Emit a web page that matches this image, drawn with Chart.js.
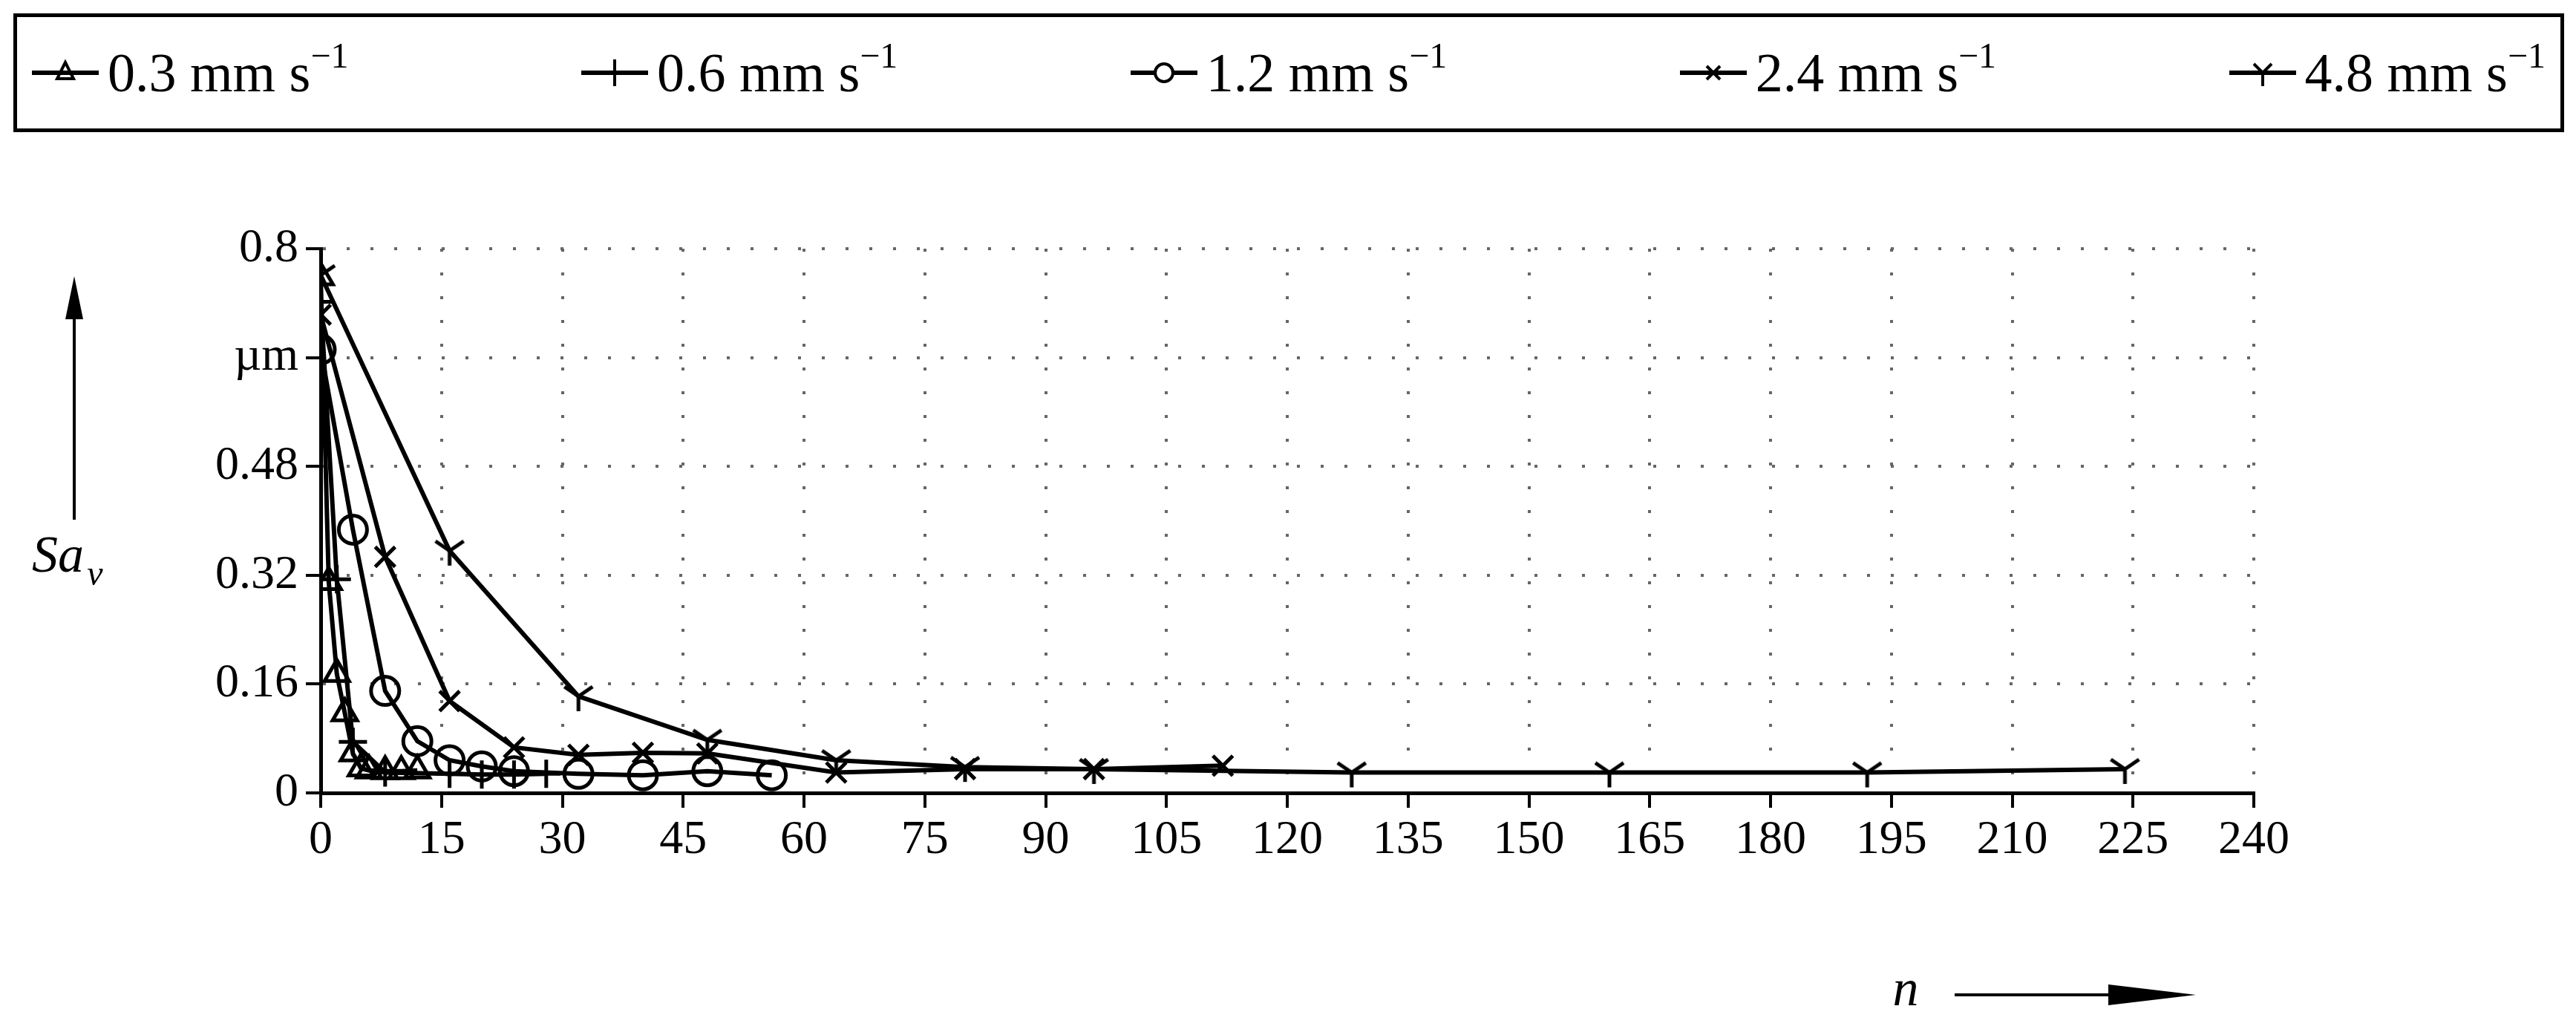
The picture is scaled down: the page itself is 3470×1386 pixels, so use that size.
<!DOCTYPE html>
<html><head><meta charset="utf-8">
<script src="https://cdn.jsdelivr.net/npm/chart.js@4"></script>
<style>
html,body{margin:0;padding:0;background:#fff;}
#wrap{position:relative;width:3470px;height:1386px;}
#legend{position:absolute;left:18px;top:18px;width:3436px;height:160px;border:5px solid #000;box-sizing:border-box;display:flex;align-items:center;justify-content:space-between;padding:0 20px;font-family:"Liberation Serif",serif;font-size:74px;}
#legend span{display:flex;align-items:center;}
#legend svg{margin-right:12px;}
sup{font-size:48px;position:relative;top:-24px;}
</style></head><body>
<div id="wrap">
<canvas id="c" width="3470" height="1386"></canvas>
<div id="legend"></div>
</div>
<script>
const labels = ["0.3 mm s", "0.6 mm s", "1.2 mm s", "2.4 mm s", "4.8 mm s"];
const n03 = [0,1,2,3,4,5,6,8,10,12];
const v03 = [0.758,0.31,0.175,0.117,0.058,0.036,0.033,0.032,0.032,0.033];
const n06 = [0,2,4,8,16,20,24,28];
const v06 = [0.722,0.314,0.075,0.03,0.028,0.027,0.027,0.028];
const n12 = [0,4,8,12,16,20,24,32,40,48,56];
const v12 = [0.652,0.387,0.15,0.076,0.048,0.039,0.032,0.028,0.026,0.032,0.026];
const n24 = [0,8,16,24,32,40,48,64,80,96,112];
const v24 = [0.703,0.347,0.135,0.067,0.056,0.059,0.058,0.03,0.035,0.035,0.04];
const n48 = [0,16,32,48,64,80,96,128,160,192,224];
const v48 = [0.761,0.356,0.142,0.078,0.048,0.038,0.035,0.03,0.03,0.03,0.035];
const yTicks = ["0","0.16","0.32","0.48","µm","0.8"];

function yMarker(){
  const c=document.createElement('canvas');c.width=44;c.height=44;
  const g=c.getContext('2d');g.strokeStyle='#000';g.lineWidth=5;
  g.beginPath();g.moveTo(22,22);g.lineTo(22,42);g.moveTo(22,22);g.lineTo(3,9);g.moveTo(22,22);g.lineTo(41,9);g.stroke();
  return c;
}
const styles=['triangle','cross','circle','crossRot',yMarker()];
const xs=[n03,n06,n12,n24,n48], vs=[v03,v06,v12,v24,v48];
const datasets=xs.map((xa,i)=>({
  label:labels[i],
  data:xa.map((x,j)=>({x:x,y:vs[i][j]})),
  borderColor:'#000',backgroundColor:'rgba(0,0,0,0)',borderWidth:6,
  pointStyle:styles[i],pointRadius:19,pointBorderWidth:5,pointBorderColor:'#000',
  tension:0
}));
const arrows={id:'arrows',afterDraw(ch){
  const g=ch.ctx;g.save();g.fillStyle='#000';g.strokeStyle='#000';g.lineWidth=4;
  g.beginPath();g.moveTo(100,700);g.lineTo(100,420);g.stroke();
  g.beginPath();g.moveTo(100,372);g.lineTo(88,430);g.lineTo(112,430);g.closePath();g.fill();
  g.beginPath();g.moveTo(2633,1340);g.lineTo(2900,1340);g.stroke();
  g.beginPath();g.moveTo(2958,1340);g.lineTo(2840,1326);g.lineTo(2840,1354);g.closePath();g.fill();
  g.font='italic 70px "Liberation Serif"';g.textAlign='center';g.textBaseline='middle';
  g.fillText('n',2567,1336);
  g.fillText('Sa',78,752);g.font='italic 48px "Liberation Serif"';g.fillText('v',128,775);
  g.restore();
}};
const gridCfg={color:'#666',lineWidth:4,tickColor:'#000',tickLength:20,tickWidth:4};
new Chart(document.getElementById('c'),{
  type:'line',data:{datasets},
  plugins:[arrows],
  options:{responsive:false,animation:false,
    layout:{padding:{left:0,top:335,right:434,bottom:0}},
    plugins:{legend:{display:false},tooltip:{enabled:false}},
    scales:{
      x:{type:'linear',min:0,max:240,
        afterFit:s=>{s.height=318;},
        ticks:{stepSize:15,color:'#000',font:{family:'Liberation Serif',size:64},padding:6},
        grid:gridCfg,
        border:{color:'#000',width:5,dash:[4,28]}},
      y:{min:0,max:0.8,
        afterFit:s=>{s.width=432;},
        afterBuildTicks:s=>{s.ticks=[0,0.16,0.32,0.48,0.64,0.8].map(v=>({value:v}));},
        ticks:{color:'#000',font:{family:'Liberation Serif',size:64},padding:10,
          callback:(v,i)=>yTicks[i]},
        grid:gridCfg,
        border:{color:'#000',width:5,dash:[4,28]}}
    }
  }
});
const L=document.getElementById('legend');
const svgM=[
 '<polygon points="45,8 34,30 56,30" fill="none" stroke="#000" stroke-width="4"/>',
 '<line x1="45" y1="4" x2="45" y2="40" stroke="#000" stroke-width="4"/>',
 '<circle cx="45" cy="22" r="12" fill="#fff" stroke="#000" stroke-width="4"/>',
 '<path d="M36 13 L54 31 M54 13 L36 31" stroke="#000" stroke-width="4"/>',
 '<path d="M45 22 L45 40 M45 22 L33 10 M45 22 L57 10" stroke="#000" stroke-width="4" fill="none"/>'];
labels.forEach((t,i)=>{
  const s=document.createElement('span');
  s.innerHTML='<svg width="90" height="44"><line x1="0" y1="22" x2="90" y2="22" stroke="#000" stroke-width="6"/>'+svgM[i]+'</svg>'+t+'<sup>−1</sup>';
  L.appendChild(s);
});
</script>
</body></html>
